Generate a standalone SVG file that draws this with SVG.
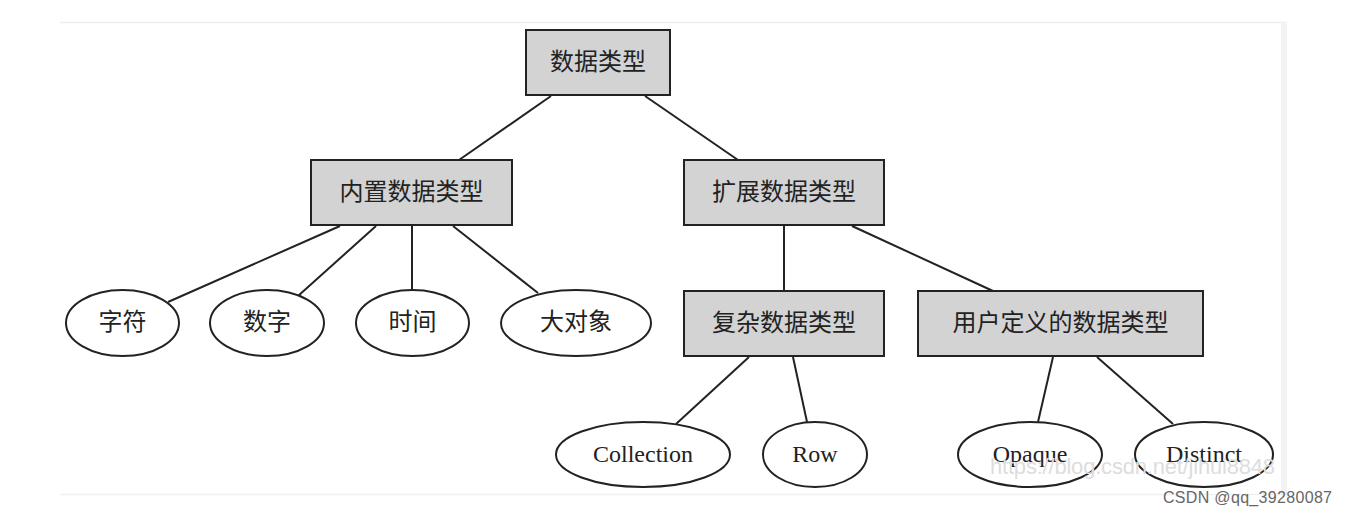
<svg xmlns="http://www.w3.org/2000/svg" width="1348" height="516" viewBox="0 0 1348 516">
<style>
.box{fill:#d3d3d3;stroke:#222;stroke-width:2}
.ell{fill:#fff;stroke:#222;stroke-width:2}
.t{font-family:"Liberation Serif","Noto Sans CJK SC",serif;font-size:24px;fill:#222;text-anchor:middle;dominant-baseline:central}
.e line{stroke:#222;stroke-width:2}
.wm{font-family:"Liberation Sans",Arial,sans-serif;fill:#ddd;font-size:22px}
.cs{font-family:"Liberation Sans",Arial,sans-serif;fill:#666;font-size:16px}
</style>
<rect width="1348" height="516" fill="#fff"/>
<line x1="60" y1="22.5" x2="1287" y2="22.5" stroke="#eee" stroke-width="1.5"/>
<line x1="60" y1="494.5" x2="1287" y2="494.5" stroke="#f0f0f0" stroke-width="1.5"/>
<rect x="1281" y="22" width="6" height="472" fill="#f3f3f3"/>
<g class="e" id="edges">
<line x1="551" y1="96" x2="459" y2="160"/>
<line x1="645" y1="96" x2="738" y2="160"/>
<line x1="340" y1="226" x2="168" y2="302"/>
<line x1="376" y1="226" x2="298" y2="296"/>
<line x1="412" y1="226" x2="412" y2="290"/>
<line x1="453" y1="226" x2="538" y2="293"/>
<line x1="784" y1="226" x2="784" y2="291"/>
<line x1="852" y1="226" x2="993" y2="291"/>
<line x1="749" y1="357" x2="676" y2="424"/>
<line x1="793" y1="357" x2="807" y2="422"/>
<line x1="1053" y1="357" x2="1038" y2="422"/>
<line x1="1097" y1="357" x2="1173" y2="424"/>
</g>
<g id="root"><rect class="box" x="526" y="30" width="144" height="65"/><text class="t" x="598" y="62">数据类型</text></g>
<g id="builtin"><rect class="box" x="311" y="160" width="201" height="65"/><text class="t" x="411.5" y="192">内置数据类型</text></g>
<g id="ext"><rect class="box" x="684" y="160" width="200" height="65"/><text class="t" x="784" y="192">扩展数据类型</text></g>
<g id="complex"><rect class="box" x="684" y="291" width="200" height="65"/><text class="t" x="784" y="323">复杂数据类型</text></g>
<g id="udt"><rect class="box" x="918" y="291" width="285" height="65"/><text class="t" x="1060.5" y="323">用户定义的数据类型</text></g>
<g id="char"><ellipse class="ell" cx="122.5" cy="323" rx="56.5" ry="33"/><text class="t" x="122.5" y="322">字符</text></g>
<g id="num"><ellipse class="ell" cx="267" cy="323" rx="57" ry="33"/><text class="t" x="267" y="322">数字</text></g>
<g id="time"><ellipse class="ell" cx="412.5" cy="323" rx="56.5" ry="33"/><text class="t" x="412.5" y="322">时间</text></g>
<g id="lob"><ellipse class="ell" cx="576" cy="323" rx="75" ry="33"/><text class="t" x="576" y="322">大对象</text></g>
<g id="coll"><ellipse class="ell" cx="643" cy="454.5" rx="87" ry="32.5"/><text class="t" x="643" y="454">Collection</text></g>
<g id="row"><ellipse class="ell" cx="815" cy="454.5" rx="52" ry="32.5"/><text class="t" x="815" y="454">Row</text></g>
<g id="opaque"><ellipse class="ell" cx="1030" cy="454.5" rx="72" ry="32.5"/><text class="t" x="1030" y="454">Opaque</text></g>
<g id="distinct"><ellipse class="ell" cx="1204" cy="454.5" rx="69" ry="32.5"/><text class="t" x="1204" y="454">Distinct</text></g>
<text class="wm" x="990" y="474" textLength="285">https://blog.csdn.net/jihui8848</text>
<text class="cs" x="1163" y="503" textLength="169">CSDN @qq_39280087</text>
</svg>
